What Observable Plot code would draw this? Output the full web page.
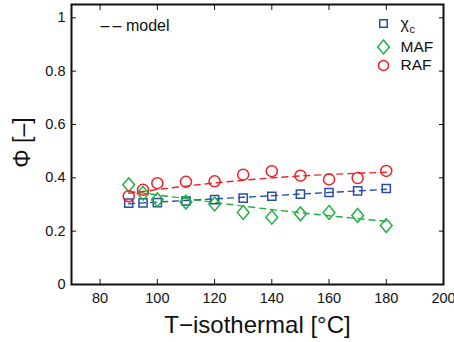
<!DOCTYPE html>
<html><head>
<meta charset="utf-8">
<script src="https://cdn.jsdelivr.net/npm/d3@7"></script>
<script src="https://cdn.jsdelivr.net/npm/@observablehq/plot@0.6"></script>
<style>
body{margin:0;background:#fff;}
#chart svg{font-family:"Liberation Sans",Arial,Helvetica,sans-serif;}
</style>
</head><body><div id="chart"></div>
<script>
const temps = [90, 95, 100, 110, 120, 130, 140, 150, 160, 170, 180];
const chiC = [0.305, 0.306, 0.307, 0.313, 0.318, 0.324, 0.331, 0.339, 0.345, 0.351, 0.360];
const maf  = [0.374, 0.342, 0.318, 0.309, 0.302, 0.270, 0.252, 0.265, 0.270, 0.259, 0.221];
const raf  = [0.331, 0.355, 0.380, 0.385, 0.387, 0.412, 0.425, 0.408, 0.394, 0.399, 0.426];
const chiCModel = [0.303, 0.306, 0.309, 0.315, 0.321, 0.327, 0.333, 0.339, 0.345, 0.351, 0.357];
const mafModel  = [0.350, 0.343, 0.336, 0.322, 0.308, 0.294, 0.281, 0.269, 0.258, 0.247, 0.237];
const rafModel  = [0.342, 0.349, 0.356, 0.369, 0.381, 0.391, 0.400, 0.407, 0.413, 0.417, 0.421];
const xTicks = [80, 100, 120, 140, 160, 180, 200];
const yTicks = [0, 0.2, 0.4, 0.6, 0.8, 1];
const yTickLabels = ["0", "0.2", "0.4", "0.6", "0.8", "1"];
const seriesNames = ["χc", "MAF", "RAF"];
const colors = ["#2a4ea6", "#22b040", "#ec2226"];

const rows = (vals, name) => temps.map((t, i) => ({t, v: vals[i], name}));
const chiRows = rows(chiC, "χc"), mafRows = rows(maf, "MAF"), rafRows = rows(raf, "RAF");
const chiM = rows(chiCModel, "χc"), mafM = rows(mafModel, "MAF"), rafM = rows(rafModel, "RAF");

const diamondSym = {draw(ctx, size) {
  const h = Math.sqrt(size) * 0.78, w = h * 0.85;
  ctx.moveTo(0, -h); ctx.lineTo(w, 0); ctx.lineTo(0, h); ctx.lineTo(-w, 0); ctx.closePath();
}};
const squareSym = {draw(ctx, size) {
  const s = Math.sqrt(size) / 2;
  ctx.rect(-s, -s, 2 * s, 2 * s);
}};

const dash = "6,5";
const legendRows = seriesNames.map((n, i) => ({name: n, i}));
const txt = (s, o) => Plot.text([s], {text: d => d, lineAnchor: "middle", fill: "#111", ...o});

const plot = Plot.plot({
  width: 454, height: 342,
  marginLeft: 71, marginRight: 11, marginTop: 4, marginBottom: 58,
  style: {fontSize: "14.5px", fontFamily: "Liberation Sans, Arial, sans-serif", color: "#111"},
  x: {domain: [70, 200], label: null},
  y: {domain: [0, 1.05], label: null},
  marks: [
    Plot.line(chiM, {x: "t", y: "v", stroke: colors[0], strokeWidth: 1.4, strokeDasharray: dash}),
    Plot.line(mafM, {x: "t", y: "v", stroke: colors[1], strokeWidth: 1.4, strokeDasharray: dash}),
    Plot.line(rafM, {x: "t", y: "v", stroke: colors[2], strokeWidth: 1.4, strokeDasharray: dash}),
    Plot.dot(chiRows, {x: "t", y: "v", symbol: squareSym, r: 4.6, stroke: colors[0], fill: "none", strokeWidth: 1.5}),
    Plot.dot(mafRows, {x: "t", y: "v", symbol: diamondSym, r: 5, stroke: colors[1], fill: "none", strokeWidth: 1.5}),
    Plot.dot(rafRows, {x: "t", y: "v", symbol: "circle", r: 5.5, stroke: colors[2], fill: "none", strokeWidth: 1.5}),
    Plot.axisX({ticks: xTicks, tickSize: -5, tickPadding: 13, tickFormat: d => String(d), label: null}),
    Plot.axisX({ticks: xTicks, anchor: "top", tickSize: -5, tickFormat: () => "", label: null}),
    Plot.axisY({ticks: yTicks, tickSize: -5, tickPadding: 11, tickFormat: d => yTickLabels[yTicks.indexOf(d)], label: null}),
    Plot.axisY({ticks: yTicks, anchor: "right", tickSize: -5, tickFormat: () => "", label: null}),
    Plot.frame({stroke: "#111", strokeWidth: 2}),
    // legend
    Plot.dot(legendRows.filter(d => d.i === 0), {frameAnchor: "top-right", dx: -60, dy: 19, symbol: squareSym, r: 4.2, stroke: colors[0], fill: "none", strokeWidth: 1.5}),
    Plot.dot(legendRows.filter(d => d.i === 1), {frameAnchor: "top-right", dx: -60, dy: 42.5, symbol: diamondSym, r: 5, stroke: colors[1], fill: "none", strokeWidth: 1.5}),
    Plot.dot(legendRows.filter(d => d.i === 2), {frameAnchor: "top-right", dx: -60, dy: 61, symbol: "circle", r: 5, stroke: colors[2], fill: "none", strokeWidth: 1.5}),
    txt("χ", {frameAnchor: "top-right", dx: -43, dy: 19, textAnchor: "start", fontSize: 16}),
    txt("c", {frameAnchor: "top-right", dx: -34, dy: 25, textAnchor: "start", fontSize: 11}),
    txt("MAF", {frameAnchor: "top-right", dx: -43, dy: 42.5, textAnchor: "start", fontSize: 15.5}),
    txt("RAF", {frameAnchor: "top-right", dx: -43, dy: 61, textAnchor: "start", fontSize: 15.5}),
    txt("–\u2009– model", {frameAnchor: "top-left", dx: 29, dy: 21, textAnchor: "start", fontSize: 16}),
    // axis titles
    txt("T\u2212isothermal [°C]", {frameAnchor: "bottom", dy: 41, textAnchor: "middle", fontSize: 24}),
    txt("Φ [–]", {frameAnchor: "left", dx: -49, dy: -2, rotate: -90, textAnchor: "middle", fontSize: 23})
  ]
});
document.getElementById("chart").appendChild(plot);
</script>
</body></html>
